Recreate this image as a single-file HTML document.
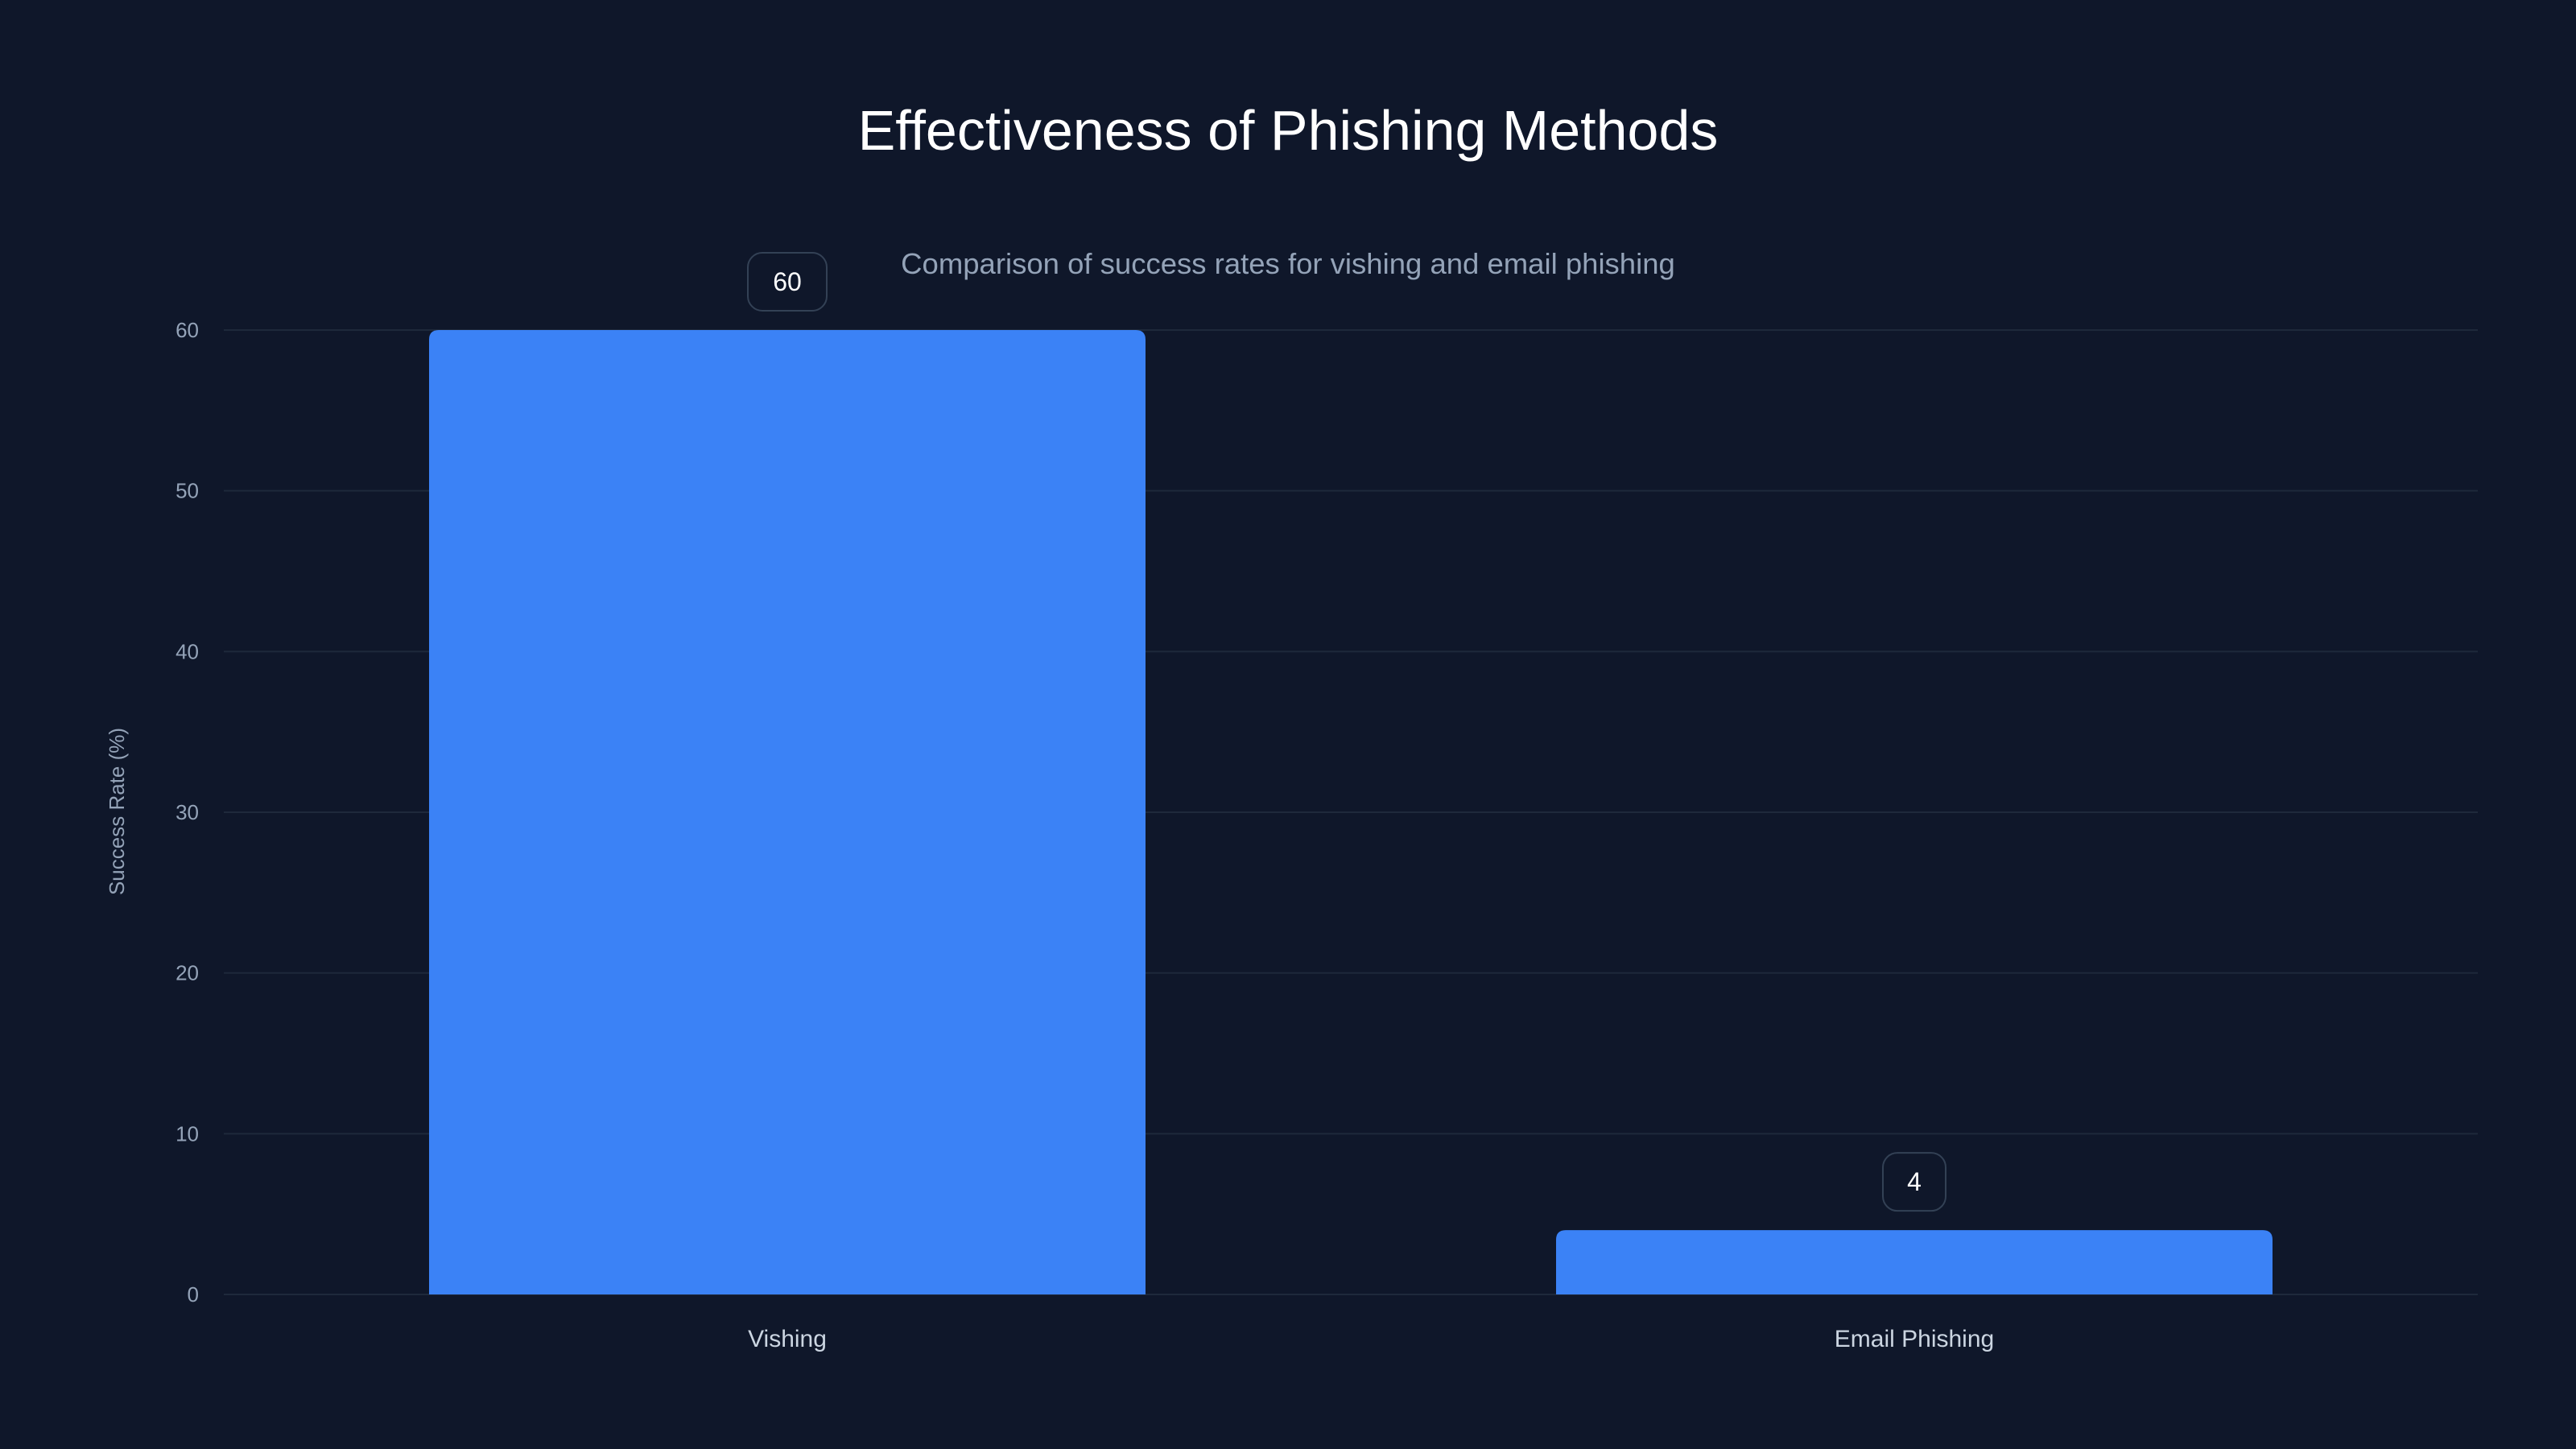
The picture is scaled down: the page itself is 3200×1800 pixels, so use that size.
<!DOCTYPE html>
<html><head><meta charset="utf-8"><style>
html,body{margin:0;padding:0;background:#0f172a;}
svg{display:block;font-family:"Liberation Sans",sans-serif;}
</style></head><body>
<svg id="chart" width="3200" height="1800" viewBox="0 0 3200 1800">
<rect width="3200" height="1800" fill="#0f172a"/>
<text x="1600" y="186" text-anchor="middle" font-size="70" fill="#ffffff">Effectiveness of Phishing Methods</text>
<text x="1600" y="340" text-anchor="middle" font-size="36.5" fill="#94a3b8">Comparison of success rates for vishing and email phishing</text>
<text transform="translate(154,1008) rotate(-90)" text-anchor="middle" font-size="26" fill="#94a3b8">Success Rate (%)</text>
<g id="grid"></g><g id="bars"></g>
</svg>
<script>
const categories=["Vishing","Email Phishing"];
const values=[60,4];
const yTicks=[0,10,20,30,40,50,60];
const NS="http://www.w3.org/2000/svg";
const L=278,R=3078,T=410,B=1608,yMax=60;
const y=v=>B-(v/yMax)*(B-T);
const band=(R-L)/categories.length;
const x=i=>L+band*i+band/2;
const bw=890;
function mk(t,a,p){const e=document.createElementNS(NS,t);for(const k in a)e.setAttribute(k,a[k]);p.appendChild(e);return e;}
const grid=document.getElementById('grid'),bars=document.getElementById('bars');
yTicks.forEach(v=>{
 const l=mk('line',{x1:L,x2:R,y1:y(v),y2:y(v),stroke:'#1e293b','stroke-width':2},grid);
 
 
 const t=mk('text',{x:247,y:y(v)+9,'text-anchor':'end','font-size':26,fill:'#94a3b8'},grid);
 t.textContent=v;
 
 
});
categories.forEach((c,i)=>{
 const cx=x(i),top=y(values[i]),h=B-top,r=Math.min(12,h/2);
 const p=mk('path',{d:`M${cx-bw/2},${B}V${top+r}Q${cx-bw/2},${top} ${cx-bw/2+r},${top}H${cx+bw/2-r}Q${cx+bw/2},${top} ${cx+bw/2},${top+r}V${B}Z`,fill:'#3b82f6'},bars);
 
 
 const s=String(values[i]);const w=s.length>1?98:78;
 const bx=mk('rect',{x:cx-w/2,y:top-96,width:w,height:72,rx:18,fill:'#0f172a',stroke:'#334155','stroke-width':2},bars);
 
 
 const vt=mk('text',{x:cx,y:top-49,'text-anchor':'middle','font-size':32,fill:'#ffffff'},bars);
 vt.textContent=s;
 
 
 const ct=mk('text',{x:cx,y:1673,'text-anchor':'middle','font-size':30,fill:'#cbd5e1'},bars);
 ct.textContent=c;
 
 
});
</script>
</body></html>
